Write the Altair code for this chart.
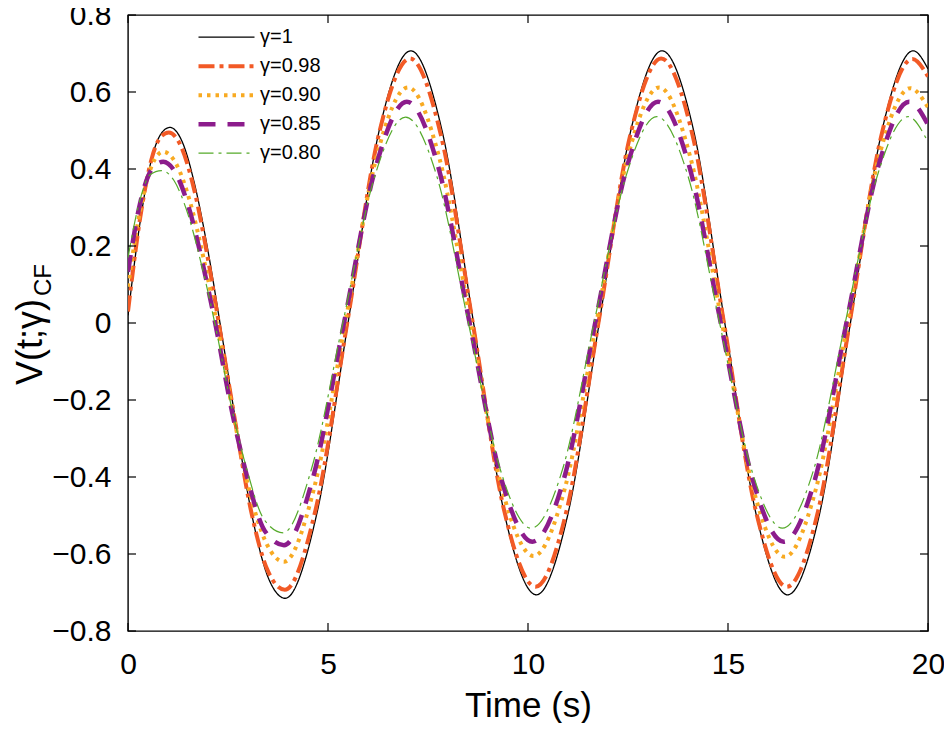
import altair as alt
import pandas as pd

# ---- data ----
labels = ["γ=1", "γ=0.98", "γ=0.90", "γ=0.85", "γ=0.80"]
legend_order = [0, 1, 2, 3, 4]

t_g100 = [0, 0.3, 0.6, 0.85, 1.05, 1.35, 1.7, 2.0, 2.3, 2.7, 3.1, 3.5, 3.93, 4.71, 5.50, 6.28, 7.07,
          7.85, 8.64, 9.42, 10.21, 10.99, 11.78, 12.57, 13.35, 14.14, 14.92, 15.71, 16.49, 17.28,
          18.06, 18.85, 19.63, 20.0]
v_g100 = [0.02, 0.26, 0.43, 0.495, 0.508, 0.472, 0.345, 0.187, 0.0, -0.26, -0.50, -0.66, -0.715,
          -0.50, 0.0, 0.50, 0.707, 0.50, 0.0, -0.50, -0.706, -0.50, 0.0, 0.50, 0.707, 0.50, 0.0,
          -0.50, -0.706, -0.50, 0.0, 0.50, 0.707, 0.66]

t_g098 = [0, 0.3, 0.6, 0.83, 1.02, 1.32, 1.68, 1.98, 2.27, 2.67, 3.07, 3.48, 3.92, 4.69, 5.48, 6.26,
          7.05, 7.83, 8.62, 9.40, 10.19, 10.97, 11.76, 12.55, 13.33, 14.12, 14.90, 15.69, 16.47,
          17.26, 18.04, 18.83, 19.61, 20.0]
v_g098 = [0.03, 0.27, 0.43, 0.485, 0.495, 0.46, 0.335, 0.177, 0.0, -0.25, -0.485, -0.64, -0.693,
          -0.485, 0.0, 0.485, 0.687, 0.485, 0.0, -0.485, -0.685, -0.485, 0.0, 0.485, 0.687, 0.485,
          0.0, -0.485, -0.685, -0.485, 0.0, 0.485, 0.686, 0.64]

t_g090 = [0, 0.3, 0.6, 0.88, 1.2, 1.55, 1.9, 2.22, 2.62, 3.02, 3.45, 3.9, 4.65, 5.43, 6.21, 7.00,
          7.78, 8.57, 9.35, 10.14, 10.92, 11.71, 12.49, 13.28, 14.06, 14.85, 15.63, 16.42, 17.20,
          17.99, 18.77, 19.56, 20.0]
v_g090 = [0.094, 0.29, 0.41, 0.445, 0.414, 0.315, 0.163, 0.0, -0.23, -0.43, -0.57, -0.62, -0.43,
          0.0, 0.43, 0.612, 0.43, 0.0, -0.43, -0.605, -0.43, 0.0, 0.43, 0.612, 0.43, 0.0, -0.43,
          -0.607, -0.43, 0.0, 0.43, 0.61, 0.56]

t_g085 = [0, 0.3, 0.6, 0.88, 1.2, 1.55, 1.88, 2.18, 2.58, 2.98, 3.42, 3.9, 4.62, 5.40, 6.19, 6.97,
          7.76, 8.54, 9.33, 10.11, 10.90, 11.68, 12.47, 13.25, 14.04, 14.82, 15.61, 16.39, 17.18,
          17.96, 18.75, 19.53, 20.0]
v_g085 = [0.133, 0.31, 0.40, 0.419, 0.388, 0.289, 0.148, 0.0, -0.22, -0.40, -0.54, -0.577, -0.404,
          0.0, 0.404, 0.575, 0.404, 0.0, -0.404, -0.568, -0.404, 0.0, 0.404, 0.575, 0.404, 0.0,
          -0.404, -0.568, -0.404, 0.0, 0.404, 0.575, 0.515]

t_g080 = [0, 0.3, 0.55, 0.84, 1.15, 1.5, 1.85, 2.17, 2.57, 2.97, 3.4, 3.88, 4.59, 5.37, 6.16, 6.94,
          7.73, 8.51, 9.30, 10.08, 10.87, 11.65, 12.44, 13.22, 14.01, 14.79, 15.58, 16.36, 17.15,
          17.93, 18.72, 19.50, 20.0]
v_g080 = [0.17, 0.32, 0.385, 0.396, 0.37, 0.282, 0.146, 0.0, -0.21, -0.38, -0.51, -0.545, -0.378,
          0.0, 0.378, 0.535, 0.378, 0.0, -0.378, -0.533, -0.378, 0.0, 0.378, 0.536, 0.378, 0.0,
          -0.378, -0.533, -0.378, 0.0, 0.378, 0.536, 0.47]

x_ticks = [0, 5, 10, 15, 20]
y_ticks = [-0.8, -0.6, -0.4, -0.2, 0, 0.2, 0.4, 0.6, 0.8]

# ---- styles ----
colors = ["#000000", "#F25A26", "#F8AA22", "#8C1C8C", "#55AA2A"]
dashes = [[1, 0], [16, 5, 4, 5], [3.5, 5], [17, 12], [15, 5, 3, 5]]
widths = [1.3, 4, 4, 4.5, 1.2]

W, H = 800, 616
FONT = "Liberation Sans"

xscale = alt.Scale(domain=[0, 20], nice=False, zero=False)
yscale = alt.Scale(domain=[-0.8, 0.8], nice=False, zero=False)

xaxis = alt.Axis(values=x_ticks, ticks=False, domain=False, grid=False, labelFlush=False,
                 labelFontSize=30, labelPadding=18, labelFont=FONT, labelColor="black",
                 title="Time (s)", titleFont=FONT, titleFontSize=35,
                 titleFontWeight="normal", titlePadding=9, titleColor="black")
yaxis = alt.Axis(values=y_ticks, ticks=False, domain=False, grid=False, labelFlush=False,
                 labelFontSize=30, labelPadding=17, labelFont=FONT, labelColor="black",
                 labelExpr="datum.value == 0 ? '0' : format(datum.value, '.1f')",
                 title=None)

cuts = [0.5, 1.5, 2.5, 3.5]
label_expr = "[" + ",".join("'" + l + "'" for l in labels) + "][datum.index]"
legend = alt.Legend(title=None, orient="none", legendX=68, legendY=8,
                    symbolType="stroke", symbolSize=3136, clipHeight=28.3,
                    rowPadding=0, labelFontSize=20, labelFont=FONT,
                    labelColor="black", labelOffset=3, padding=0,
                    labelExpr=label_expr)

series = [(t_g100, v_g100), (t_g098, v_g098), (t_g090, v_g090), (t_g085, v_g085), (t_g080, v_g080)]
line_layers = []
for k, (ts, vs) in zip(legend_order, series):
    d = pd.DataFrame({"t": ts, "v": vs, "k": [k] * len(ts)})
    line_layers.append(
        alt.Chart(d).mark_line(interpolate="monotone", clip=True).encode(
            x=alt.X("t:Q", scale=xscale, axis=xaxis),
            y=alt.Y("v:Q", scale=yscale, axis=yaxis),
            color=alt.Color("k:Q", scale=alt.Scale(type="threshold", domain=cuts, range=colors),
                            legend=legend),
            strokeDash=alt.StrokeDash("k:Q", scale=alt.Scale(type="threshold", domain=cuts,
                                                             range=dashes), legend=legend),
            strokeWidth=alt.StrokeWidth("k:Q", scale=alt.Scale(type="threshold", domain=cuts,
                                                               range=widths), legend=legend),
        )
    )

xt = pd.DataFrame({"t": x_ticks})
yt = pd.DataFrame({"v": y_ticks})
TL = 8
tick_bottom = alt.Chart(xt).mark_rule(color="black", strokeWidth=1.2).encode(
    x=alt.X("t:Q", scale=xscale, axis=xaxis), y=alt.value(H), y2=alt.value(H - TL))
tick_top = alt.Chart(xt).mark_rule(color="black", strokeWidth=1.2).encode(
    x=alt.X("t:Q", scale=xscale, axis=xaxis), y=alt.value(0), y2=alt.value(TL))
tick_left = alt.Chart(yt).mark_rule(color="black", strokeWidth=1.2).encode(
    y=alt.Y("v:Q", scale=yscale, axis=yaxis), x=alt.value(0), x2=alt.value(TL))
tick_right = alt.Chart(yt).mark_rule(color="black", strokeWidth=1.2).encode(
    y=alt.Y("v:Q", scale=yscale, axis=yaxis), x=alt.value(W), x2=alt.value(W - TL))

ytitle_main = alt.Chart(pd.DataFrame({"s": ["V(t;γ)"]})).mark_text(
    angle=270, align="left", baseline="alphabetic", fontSize=36, font=FONT, color="black"
).encode(text="s:N", x=alt.value(-86), y=alt.value(370))
ytitle_sub = alt.Chart(pd.DataFrame({"s": ["CF"]})).mark_text(
    angle=270, align="left", baseline="alphabetic", fontSize=24, font=FONT, color="black"
).encode(text="s:N", x=alt.value(-77), y=alt.value(281))

chart = alt.layer(
    *line_layers, tick_bottom, tick_top, tick_left, tick_right, ytitle_main, ytitle_sub
).properties(
    width=W, height=H,
    autosize=alt.AutoSizeParams(type="none"),
    padding={"left": 120, "top": 7, "right": 16, "bottom": 92},
    background="white",
).configure_view(stroke="black", strokeWidth=1.4)

chart.save("out.html", embed_options={"renderer": "svg", "actions": False})
